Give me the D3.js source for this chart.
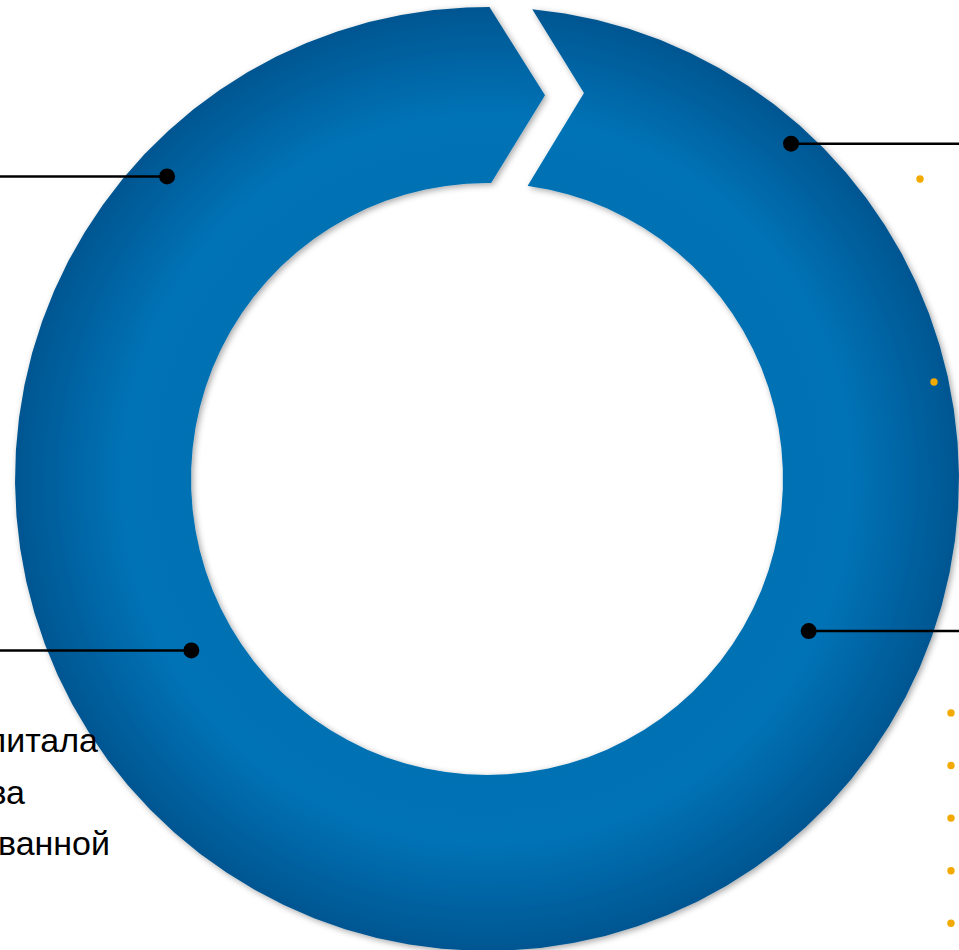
<!DOCTYPE html>
<html>
<head>
<meta charset="utf-8">
<script src="https://cdn.jsdelivr.net/npm/d3@7/dist/d3.min.js"></script>
<style>
  html, body { margin: 0; padding: 0; background: #fff; overflow: hidden; }
  svg { display: block; font-family: "Liberation Sans", Arial, sans-serif; }
</style>
</head>
<body>
<svg id="chart" width="959" height="950"></svg>
<script>
// callouts: angle in degrees clockwise from 12 o'clock, depth across the ring (0 = inner edge, 1 = outer edge)
const calloutSides = ['left', 'left', 'right', 'right'];
const calloutAngles = [313.4, 239.9, 42.2, 115.3];
const calloutDepth = [0.82, 0.26, 0.89, 0.34];

// text lines on the left (cut by the slide edge)
const leftLines = ['рост собственного капитала', 'и развитие имущества', 'группы консолидированной'];

// bullet markers of the lists on the right (text lies beyond the edge)
const bulletRows = [0, 3.86, 10.15, 11.15, 12.15, 13.15, 14.15];
const bulletIndent = [920, 934, 951, 951, 951, 951, 951];

const width = 959;
const height = 950;
const cx = 487;
const cy = 479;
const outerR = 472;
const innerR = 296;

const svg = d3.select('#chart');
const defs = svg.append('defs');

// gradient in the ring's own (translated) coordinates
const grad = defs.append('radialGradient')
  .attr('id', 'ringGrad')
  .attr('gradientUnits', 'userSpaceOnUse')
  .attr('cx', 0).attr('cy', 0).attr('r', outerR);
grad.append('stop').attr('offset', innerR / outerR).attr('stop-color', '#0071b3');
grad.append('stop').attr('offset', 0.77).attr('stop-color', '#0073b6');
grad.append('stop').attr('offset', 1).attr('stop-color', '#005691');

const shadow = defs.append('filter').attr('id', 'shadow')
  .attr('x', '-10%').attr('y', '-10%').attr('width', '120%').attr('height', '120%');
shadow.append('feDropShadow')
  .attr('dx', 2).attr('dy', 2).attr('stdDeviation', 3)
  .attr('flood-color', '#000').attr('flood-opacity', 0.35);

const rad = d3.scaleLinear().domain([0, 360]).range([0, 2 * Math.PI]);
const depth = d3.scaleLinear().domain([0, 1]).range([innerR, outerR]);

// ring outline with the chevron notch at 12 o'clock
const step = 4;
const pts = [];
const outerStart = 5.5, outerEnd = 360.3;
const innerStart = 360.8, innerEnd = 7.9;
for (let a = outerStart; a < outerEnd; a += step) pts.push([a, outerR]);
pts.push([outerEnd, outerR]);
pts.push([368.6, 388]);
pts.push([innerStart, innerR]);
for (let a = Math.floor(innerStart / step) * step; a > innerEnd; a -= step) pts.push([a, innerR]);
pts.push([innerEnd, innerR]);
pts.push([14.1, 398]);

const ring = d3.lineRadial()
  .angle((d) => rad(d[0]))
  .radius((d) => d[1])
  .curve(d3.curveLinearClosed);

const g = svg.append('g').attr('transform', `translate(${cx}, ${cy})`);

g.append('path')
  .attr('d', ring(pts))
  .attr('fill', 'url(#ringGrad)')
  .attr('filter', 'url(#shadow)');

// callout lines + dots
calloutAngles.forEach((ang, i) => {
  const r = depth(calloutDepth[i]);
  const x = Math.sin(rad(ang)) * r;
  const y = -Math.cos(rad(ang)) * r;
  const xEnd = calloutSides[i] === 'left' ? -cx : width - cx;
  g.append('line')
    .attr('x1', x).attr('y1', y)
    .attr('x2', xEnd).attr('y2', y)
    .attr('stroke', '#000').attr('stroke-width', 2.5);
  g.append('circle')
    .attr('cx', x).attr('cy', y).attr('r', 8)
    .attr('fill', '#000');
});

// left text block, runs off the left edge of the slide
const lineY = d3.scaleLinear().domain([0, 1]).range([752, 803.5]);
const lineEnd = [98, 25, 110];
svg.append('g').selectAll('text')
  .data(leftLines).enter().append('text')
  .attr('x', (d, i) => lineEnd[i])
  .attr('y', (d, i) => lineY(i))
  .attr('text-anchor', 'end')
  .attr('font-size', 34)
  .attr('fill', '#000')
  .text((d) => d);

// bullet markers
const rowY = d3.scaleLinear().domain([0, 1]).range([179, 231.6]);
svg.append('g').selectAll('circle')
  .data(bulletRows).enter().append('circle')
  .attr('cx', (d, i) => bulletIndent[i])
  .attr('cy', (d) => rowY(d))
  .attr('r', 3.7)
  .attr('fill', '#f2a900');
</script>
</body>
</html>
